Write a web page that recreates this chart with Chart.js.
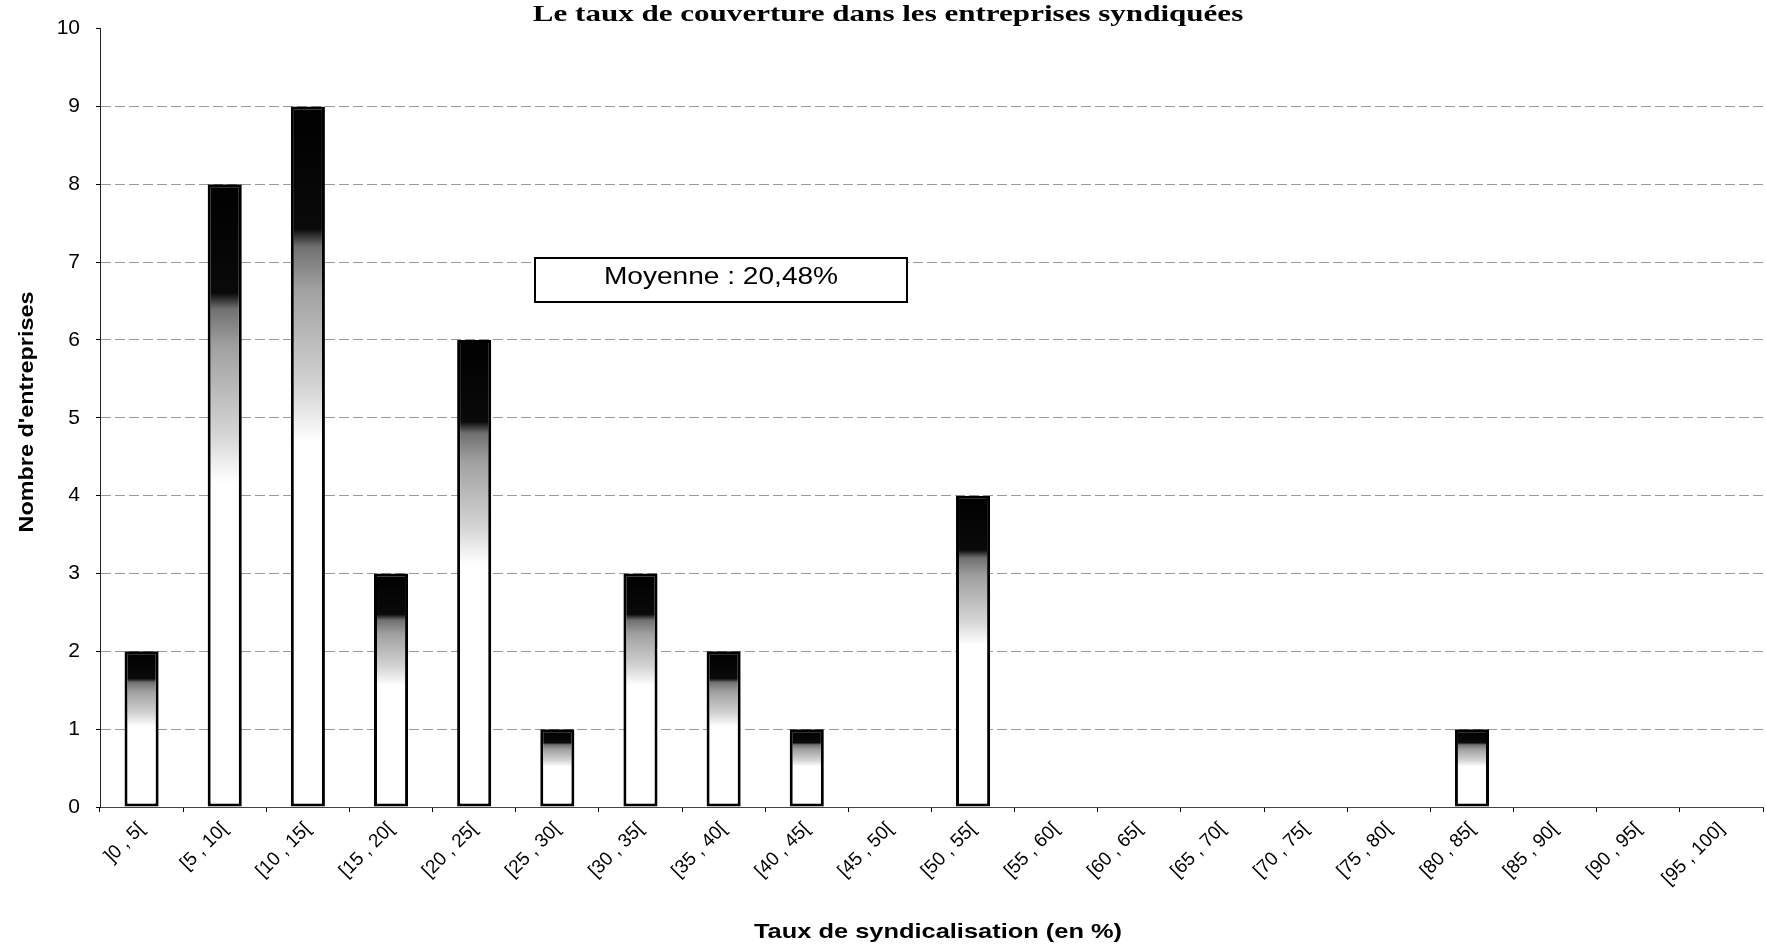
<!DOCTYPE html>
<html>
<head>
<meta charset="utf-8">
<script src="https://cdn.jsdelivr.net/npm/chart.js@4"></script>
<style>
  body { margin: 0; background: #fff; }
  #wrap { width: 1766px; height: 950px; }
</style>
</head>
<body>
<div id="wrap"><canvas id="chart" width="1766" height="950"></canvas></div>
<script>
const TITLE = 'Le taux de couverture dans les entreprises syndiquées';
const X_TITLE = 'Taux de syndicalisation (en %)';
const Y_TITLE = "Nombre d'entreprises";
const MEAN_LABEL = 'Moyenne : 20,48%';

const classes = [
  ']0 , 5[', '[5 , 10[', '[10 , 15[', '[15 , 20[', '[20 , 25[',
  '[25 , 30[', '[30 , 35[', '[35 , 40[', '[40 , 45[', '[45 , 50[',
  '[50 , 55[', '[55 , 60[', '[60 , 65[', '[65 , 70[', '[70 , 75[',
  '[75 , 80[', '[80 , 85[', '[85 , 90[', '[90 , 95[', '[95 , 100]'
];
const counts = [2, 8, 9, 3, 6, 1, 3, 2, 1, 0, 4, 0, 0, 0, 0, 0, 1, 0, 0, 0];
const yTicks = [0, 1, 2, 3, 4, 5, 6, 7, 8, 9, 10];

// white bottom, speckled grey middle, black top
function barFill(c) {
  const chart = c.chart;
  const v = c.raw;
  if (!chart.chartArea || !v) return '#fff';
  const y = chart.scales.y;
  const g = chart.ctx.createLinearGradient(0, y.getPixelForValue(0), 0, y.getPixelForValue(v));
  g.addColorStop(0, '#ffffff');
  g.addColorStop(0.52, '#ffffff');
  g.addColorStop(0.6, '#d4d4d4');
  g.addColorStop(0.74, '#a0a0a0');
  g.addColorStop(0.8, '#707070');
  g.addColorStop(0.825, '#0a0a0a');
  g.addColorStop(1, '#000000');
  return g;
}

function stretchedText(ctx, text, x, y, font, sx, rot) {
  ctx.save();
  ctx.translate(x, y);
  if (rot) ctx.rotate(rot);
  ctx.scale(sx, 1);
  ctx.font = font;
  ctx.fillStyle = '#000';
  ctx.textAlign = 'center';
  ctx.textBaseline = 'middle';
  ctx.fillText(text, 0, 0);
  ctx.restore();
}

const labelsPlugin = {
  id: 'labels',
  afterDraw(chart) {
    const ctx = chart.ctx;
    stretchedText(ctx, TITLE, 888, 15, 'bold 23px "Liberation Serif", serif', 1.35, 0);
    stretchedText(ctx, X_TITLE, 938, 932, 'bold 21px "Liberation Sans", Arial, sans-serif', 1.21, 0);
    stretchedText(ctx, Y_TITLE, 27, 412, 'bold 20px "Liberation Sans", Arial, sans-serif', 1.17, -Math.PI / 2);

    // mean box
    ctx.save();
    ctx.fillStyle = '#fff';
    ctx.fillRect(535, 258, 372, 44);
    ctx.strokeStyle = '#000';
    ctx.lineWidth = 2;
    ctx.strokeRect(535, 258, 372, 44);
    ctx.restore();
    stretchedText(ctx, MEAN_LABEL, 721, 277, '24px "Liberation Sans", Arial, sans-serif', 1.17, 0);
  }
};

new Chart(document.getElementById('chart'), {
  type: 'bar',
  data: {
    labels: classes,
    datasets: [{
      data: counts,
      backgroundColor: barFill,
      borderColor: '#000',
      borderWidth: c => (c.raw ? 3 : 0),
      borderSkipped: false,
      barPercentage: 0.41,
      categoryPercentage: 1
    }]
  },
  options: {
    responsive: false,
    animation: false,
    layout: { padding: { top: 15, right: 3, left: 0, bottom: 0 } },
    plugins: { legend: { display: false }, tooltip: { enabled: false } },
    scales: {
      x: {
        afterFit: s => { s.height = 143; },
        grid: { drawOnChartArea: false, drawTicks: true, tickLength: 5, color: '#000', offset: true },
        border: { color: '#444', dash: [7, 3], width: 1 },
        ticks: {
          color: '#000',
          font: { family: '"Liberation Sans", Arial, sans-serif', size: 19 },
          maxRotation: 45, minRotation: 45, padding: 6, autoSkip: false
        }
      },
      y: {
        min: 0, max: 10,
        afterFit: s => { s.width = 100; },
        afterBuildTicks: s => { s.ticks = yTicks.map(v => ({ value: v })); },
        grid: {
          color: c => (c.tick.value === 0 || c.tick.value === 10 ? 'rgba(0,0,0,0)' : '#9a9a9a'),
          tickColor: '#000', tickLength: 4, lineWidth: 1
        },
        border: { color: '#222', width: 1, dash: [10, 4] },
        ticks: {
          color: '#000',
          font: { family: '"Liberation Sans", Arial, sans-serif', size: 21 },
          padding: 16
        }
      }
    }
  },
  plugins: [labelsPlugin]
});
</script>
</body>
</html>
